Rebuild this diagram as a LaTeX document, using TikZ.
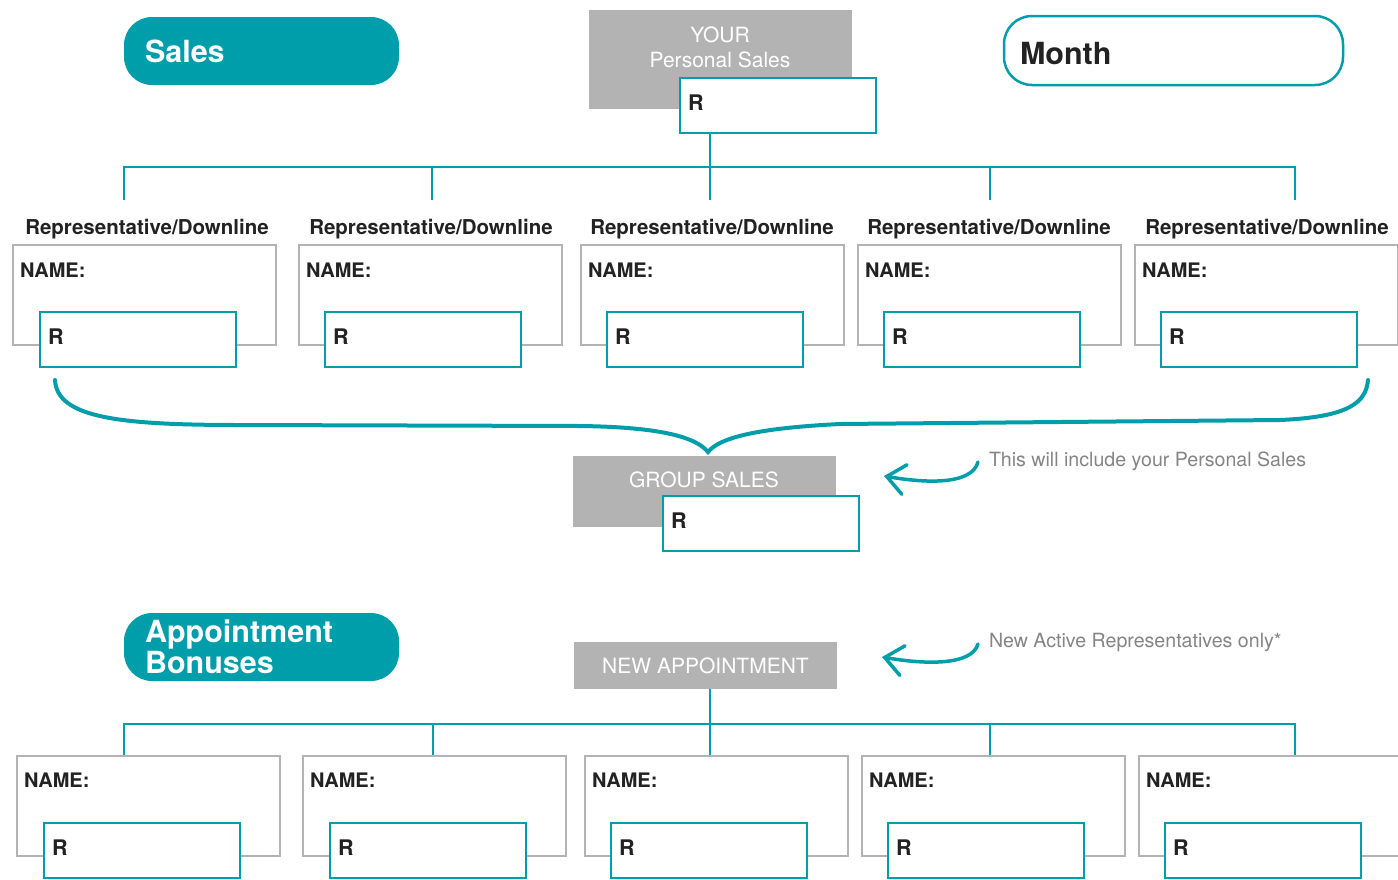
\documentclass[tikz,border=0pt]{standalone}
\usepackage{fontspec}
\setmainfont{TeX Gyre Heros}
\usetikzlibrary{arrows.meta,calc}
\definecolor{teal1}{HTML}{009EAA}
\definecolor{boxgrey}{HTML}{B3B3B3}
\definecolor{notegrey}{HTML}{858585}
\definecolor{ink}{HTML}{222222}
\begin{document}
\begin{tikzpicture}[x=1pt,y=-1pt,
  every node/.style={inner sep=0pt, outer sep=0pt},
  pill/.style={fill=teal1, rounded corners=28pt, minimum width=275pt, minimum height=68pt,
    anchor=north west, text width=233pt, inner xsep=21pt, align=left, text=white,
    font=\bfseries\fontsize{30.5}{31}\selectfont},
  monthbox/.style={draw=teal1, line width=2.5pt, fill=white, rounded corners=28pt,
    minimum width=339pt, minimum height=69pt, anchor=north west, text width=307pt,
    inner xsep=16pt, align=left, text=ink, text height=28pt, text depth=0pt,
    font=\bfseries\fontsize{30.5}{31}\selectfont},
  greybox/.style={fill=boxgrey, anchor=north west},
  greytext/.style={text=white, anchor=base, font=\fontsize{21}{21}\selectfont},
  namebox/.style={draw=boxgrey, line width=2.5pt, minimum width=263pt, minimum height=100pt, anchor=north west},
  rbox/.style={draw=teal1, line width=2.5pt, fill=white, minimum width=196pt, minimum height=55pt,
    anchor=north west, text width=180pt, inner xsep=8pt, align=left, text=ink,
    text height=16pt, text depth=7pt,
    font=\bfseries\fontsize{21.5}{22}\selectfont},
  replabel/.style={anchor=base, text=ink, font=\bfseries\fontsize{20.5}{21}\selectfont},
  nametext/.style={anchor=base west, text=ink, font=\bfseries\fontsize{20}{21}\selectfont},
  tline/.style={draw=teal1, line width=2.5pt},
  note/.style={text=notegrey, anchor=base west, font=\fontsize{19.6}{20}\selectfont},
  curlyarrow/.style={draw=teal1, line width=3.5pt, line cap=round,
    -{Straight Barb[length=18pt,width=30pt,line cap=round]}},
  bracestyle/.style={draw=teal1, line width=4pt, line cap=round},
]
\fill[white] (0,0) rectangle (1398,879);
\useasboundingbox (0,0) rectangle (1398,879);

% ---------- header ----------
\node[pill] (sales) at (124,17) {Sales};
\node[monthbox] (month) at (1004,16) {Month};

\node[greybox, minimum width=263pt, minimum height=99pt] (yps) at (589,10) {};
\node[greytext] (ypsA) at (720,42) {YOUR};
\node[greytext] (ypsB) at (720,67) {Personal Sales};

% ---------- top tree ----------
\coordinate (t1) at (124,200);
\coordinate (t2) at (432,200);
\coordinate (t3) at (710,200);
\coordinate (t4) at (990,200);
\coordinate (t5) at (1295,200);
\coordinate (tbar) at (0,167);

\node[rbox] (ps) at (680,78) {R};
\draw[tline] (t3 |- ps.south) -- (t3);
\draw[tline] (t1) -- (t1 |- tbar) -- (t5 |- tbar) -- (t5);
\draw[tline] (t2 |- tbar) -- (t2);
\draw[tline] (t4 |- tbar) -- (t4);

\foreach \i/\gx/\rx/\lx in {1/13/40/147, 2/299/325/431, 3/581/607/712, 4/858/884/989, 5/1135/1161/1267} {
  \node[replabel] (rl\i) at (\lx,234) {Representative/Downline};
  \node[namebox] (nt\i) at (\gx,245) {};
  \node[nametext] (ntx\i) at ($(nt\i.north west)+(7,32)$) {NAME:};
  \node[rbox] (rt\i) at (\rx,312) {R};
}

% ---------- brace ----------
\coordinate (brL) at (55,380);
\coordinate (brT) at (708,452);
\coordinate (brR) at (1368,380);
\draw[bracestyle] (brL) .. controls (57,418) and (120,425) .. (240,425)
  -- (580,426) .. controls (660,427) and (696,437) .. (brT)
  .. controls (720,437) and (760,428) .. (840,424)
  -- (1280,420) .. controls (1350,417) and (1366,402) .. (brR);

% ---------- group sales ----------
\node[greybox, minimum width=263pt, minimum height=71pt] (gsb) at (573,456) {};
\node[greytext] (gsT) at (704,487) {GROUP SALES};
\node[rbox] (gs) at (663,496) {R};

\coordinate (a1s) at (978,462);
\coordinate (a1e) at (884,476);
\draw[curlyarrow] (a1s) .. controls (972,484) and (930,484) .. (a1e);
\node[note] (n1) at (989,466) {This will include your Personal Sales};

% ---------- appointment bonuses ----------
\node[pill] (appt) at (124,613) {Appointment\\Bonuses};

\node[greybox, minimum width=263pt, minimum height=47pt] (na) at (574,642) {};
\node[greytext] (naT) at (705.5,673) {NEW APPOINTMENT};

\coordinate (a2s) at (978,644);
\coordinate (a2e) at (882,657);
\draw[curlyarrow] (a2s) .. controls (972,665) and (928,665) .. (a2e);
\node[note] (n2) at (989,647) {New Active Representatives only*};

% ---------- bottom tree ----------
\coordinate (b1) at (124,755);
\coordinate (b2) at (433,755);
\coordinate (b3) at (710,755);
\coordinate (b4) at (990,755);
\coordinate (b5) at (1295,755);
\coordinate (bbar) at (0,724);

\draw[tline] (b3 |- na.south) -- (b3);
\draw[tline] (b1) -- (b1 |- bbar) -- (b5 |- bbar) -- (b5);
\draw[tline] (b2 |- bbar) -- (b2);
\draw[tline] (b4 |- bbar) -- (b4);

\foreach \i/\gx/\rx in {1/17/44, 2/303/330, 3/585/611, 4/862/888, 5/1139/1165} {
  \node[namebox] (nb\i) at (\gx,756) {};
  \node[nametext] (nbx\i) at ($(nb\i.north west)+(7,31)$) {NAME:};
  \node[rbox] (rb\i) at (\rx,823) {R};
}
\end{tikzpicture}
\end{document}
